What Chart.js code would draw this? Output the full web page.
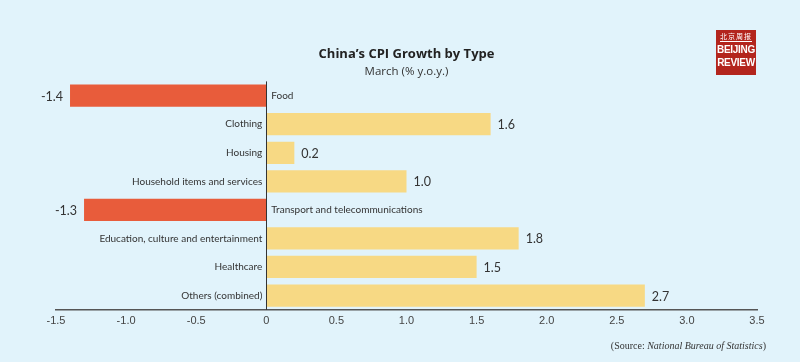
<!DOCTYPE html>
<html>
<head>
<meta charset="utf-8">
<script src="https://cdn.jsdelivr.net/npm/chart.js@4"></script>
<style>
  html, body { margin: 0; padding: 0; background: #e1f3fb; }
  #wrap { position: relative; width: 800px; height: 362px; }
  #logo {
    position: absolute; left: 716px; top: 30px; width: 40px; height: 45px;
    background: #b3251d; color: #fff; text-align: center;
    font-family: "Liberation Sans Narrow", "Liberation Sans", sans-serif;
  }
  #logo .cn { font-family: "Noto Sans CJK SC"; font-size: 7px; line-height: 9px; padding-top: 2px; letter-spacing: 1px; border-bottom: 1px solid #fff; margin: 0 4px 1px; }
  #logo .en { font-size: 10px; font-weight: bold; line-height: 13px; letter-spacing: -0.3px; }
  #source {
    position: absolute; right: 34px; top: 340px;
    font-family: "Liberation Serif", serif; font-size: 10px; color: #333;
  }
</style>
</head>
<body>
<div id="wrap">
  <canvas id="chart1" width="800" height="362"></canvas>
  <div id="logo"><div class="cn">北京周报</div><div class="en">BEIJING<br>REVIEW</div></div>
  <div id="source">(Source: <i>National Bureau of Statistics</i>)</div>
</div>
<script>
const categories = [
  "Food",
  "Clothing",
  "Housing",
  "Household items and services",
  "Transport and telecommunications",
  "Education, culture and entertainment",
  "Healthcare",
  "Others (combined)",
];
const growth = [-1.4, 1.6, 0.2, 1.0, -1.3, 1.8, 1.5, 2.7];
const colorNeg = "#e85c3b";
const colorPos = "#f7d984";

// Etiquettes des catégories et des valeurs, de part et d'autre du zéro
const barLabels = {
  id: "barLabels",
  afterDatasetsDraw(chart) {
    const ctx = chart.ctx;
    const x = chart.scales.x;
    const x0 = x.getPixelForValue(0);
    const meta = chart.getDatasetMeta(0);

    // ligne du zéro
    ctx.save();
    ctx.strokeStyle = "#333";
    ctx.lineWidth = 1;
    ctx.beginPath();
    ctx.moveTo(Math.round(x0) + 0.5, chart.chartArea.top);
    ctx.lineTo(Math.round(x0) + 0.5, chart.chartArea.bottom);
    ctx.stroke();

    ctx.textBaseline = "middle";
    meta.data.forEach((bar, i) => {
      const v = growth[i];
      const y = bar.y;
      ctx.fillStyle = "#333";
      ctx.font = "10px Lato, sans-serif";
      if (v >= 0) {
        ctx.textAlign = "right";
        ctx.fillText(categories[i], x0 - 4, y);
      } else {
        ctx.textAlign = "left";
        ctx.fillText(categories[i], x0 + 5, y);
      }
      ctx.font = "12.5px Lato, sans-serif";
      const xv = x.getPixelForValue(v);
      if (v >= 0) {
        ctx.textAlign = "left";
        ctx.fillText(v.toFixed(1), xv + 7, y + 1);
      } else {
        ctx.textAlign = "right";
        ctx.fillText(v.toFixed(1), xv - 7, y + 1);
      }
    });
    ctx.restore();
  },
};

const ctx = document.getElementById("chart1");

const chart = new Chart(ctx, {
  type: "bar",
  data: {
    labels: categories,
    datasets: [
      {
        data: growth,
        backgroundColor: growth.map((v) => (v < 0 ? colorNeg : colorPos)),
        borderWidth: 0,
        barPercentage: 0.78,
        categoryPercentage: 1,
      },
    ],
  },
  options: {
    indexAxis: "y",
    responsive: false,
    animation: false,
    layout: {
      padding: { left: 56, right: 43, top: 0, bottom: 29 },
    },
    scales: {
      x: {
        min: -1.5,
        max: 3.5,
        grid: { display: false, drawTicks: false },
        border: { display: true, color: "#555", width: 1.5 },
        ticks: {
          stepSize: 0.5,
          padding: 5,
          color: "#444",
          font: { family: "'Liberation Sans Narrow', 'Liberation Sans', sans-serif", size: 11 },
          callback: (value) => (value === 0 ? "0" : value.toFixed(1)),
        },
      },
      y: {
        display: false,
      },
    },
    plugins: {
      legend: { display: false },
      tooltip: { enabled: false },
      title: {
        display: true,
        text: "China’s CPI Growth by Type",
        color: "#222",
        font: { family: "'Open Sans', sans-serif", size: 13, weight: "bold" },
        padding: { top: 46, bottom: 3 },
      },
      subtitle: {
        display: true,
        text: "March (% y.o.y.)",
        color: "#333",
        font: { family: "'Open Sans', sans-serif", size: 11.5 },
        padding: { top: 0, bottom: 3 },
      },
    },
  },
  plugins: [barLabels],
});
</script>
</body>
</html>
